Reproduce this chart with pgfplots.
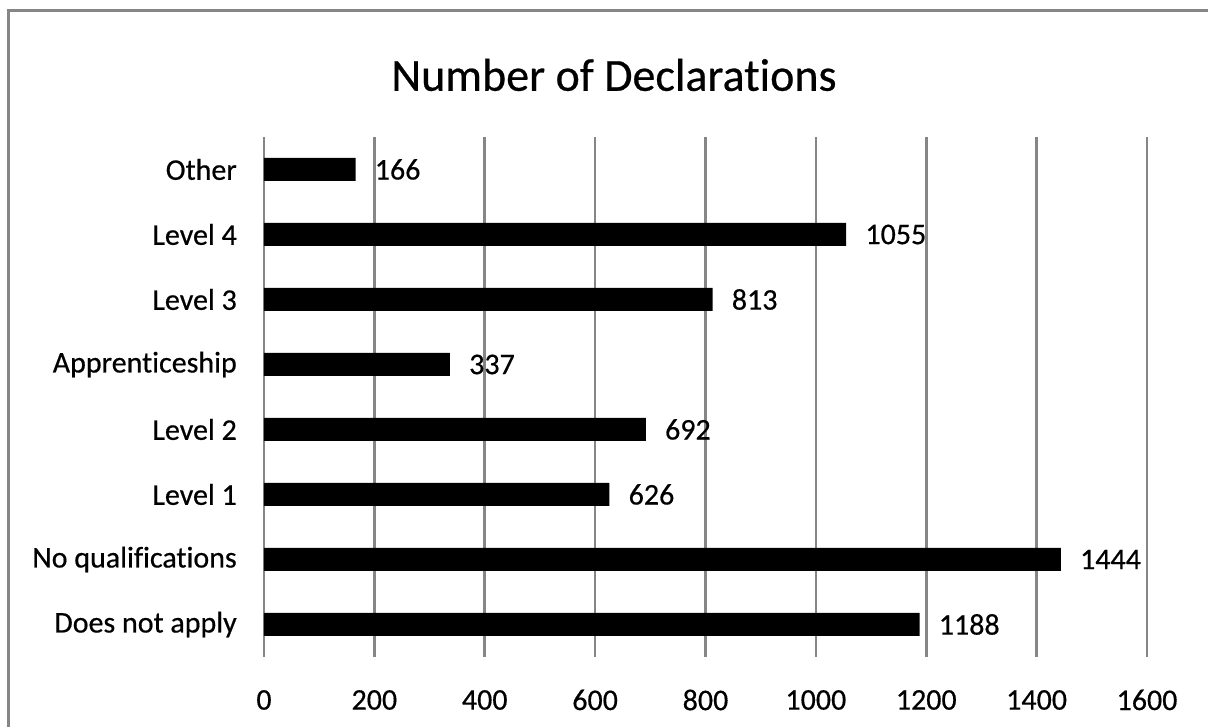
\documentclass[border=0pt]{standalone}
\usepackage{fontspec}
\setmainfont{Carlito}[Ligatures={NoCommon,NoRare}, FakeBold=0.5]
\usepackage{pgfplots}
\pgfplotsset{compat=1.18}
\definecolor{gridgray}{RGB}{134,134,134}
\begin{document}
\begin{tikzpicture}[x=1pt,y=1pt]
\useasboundingbox (0,0) rectangle (1208,727);
\draw[gridgray, line width=3pt] (8,-20) -- (8,716) -- (1240,716);
\begin{axis}[
 at={(264pt,70pt)}, anchor=south west,
 scale only axis, width=883pt, height=520pt,
 xbar, bar width=23pt, bar shift=0pt,
 xmin=0, xmax=1600, ymin=-0.5, ymax=7.5,
 xtick={0,200,...,1600},
 ytick={0,...,7},
 yticklabels={Does not apply, No qualifications, Level 1\ , Level 2\ , Apprenticeship, Level 3\ , Level 4\ , Other},
 xmajorgrids, major grid style={gridgray, line width=2.7pt},
 axis line style={draw=none},
 major tick length=0pt,
 tick label style={font=\fontsize{30}{33}\selectfont},
 /pgf/number format/assume math mode=true,
 /pgf/number format/1000 sep={},
 yticklabel style={anchor=east, inner sep=0pt, xshift=-27pt},
 xticklabel style={anchor=center, inner sep=0pt, yshift=-43pt},
 nodes near coords,
 every node near coord/.append style={font=\fontsize{30}{33}\selectfont, anchor=west, inner sep=0pt, xshift=19pt, black},
 clip=false,
]
\addplot[fill=black, draw=none] coordinates {(1188,0) (1444,1) (626,2) (692,3) (337,4) (813,5) (1055,6) (166,7)};
\end{axis}
\node[font=\fontsize{46}{50}\selectfont] at (614,652) {Number of Declarations};
\end{tikzpicture}
\end{document}
